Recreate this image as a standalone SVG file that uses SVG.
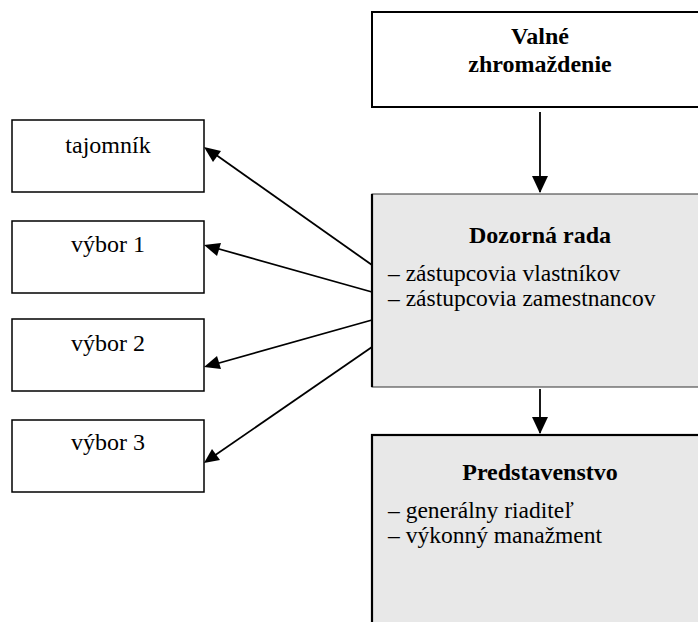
<svg xmlns="http://www.w3.org/2000/svg" width="698" height="622" viewBox="0 0 698 622">
<style>
text{font-family:"Liberation Serif","Times New Roman",serif;font-size:24px;fill:#000}
.b{font-weight:bold}
.c{text-anchor:middle}
.s{font-size:23.5px}
.box{fill:#fff;stroke:#000;stroke-width:1.5}
.gbox{fill:#e8e8e8;stroke:#000;stroke-width:1.5}
.line{stroke:#000;stroke-width:1.8;fill:none}
.head{fill:#000}
</style>
<g id="valne">
<rect class="box" x="372" y="12" width="340" height="95" style="stroke-width:2"/>
<text class="b c" x="540" y="44">Valné</text>
<text class="b c" x="540" y="72">zhromaždenie</text>
</g>
<g id="tajomnik">
<rect class="box" x="12" y="120" width="192" height="72"/>
<text class="c" x="108" y="153">tajomník</text>
</g>
<g id="vybor1">
<rect class="box" x="12" y="221" width="192" height="72"/>
<text class="c" x="108" y="252">výbor 1</text>
</g>
<g id="vybor2">
<rect class="box" x="12" y="319" width="192" height="72"/>
<text class="c" x="108" y="351">výbor 2</text>
</g>
<g id="vybor3">
<rect class="box" x="12" y="420" width="192" height="72"/>
<text class="c" x="108" y="450">výbor 3</text>
</g>
<g id="dozorna">
<rect class="gbox" x="372" y="194" width="340" height="193" style="stroke:#333;stroke-width:1"/>
<line x1="372" y1="194" x2="372" y2="387" stroke="#000" stroke-width="2.2"/>
<text class="b c" x="540" y="243">Dozorná rada</text>
<text class="s" x="388" y="281">– zástupcovia vlastníkov</text>
<text class="s" x="388" y="306">– zástupcovia zamestnancov</text>
</g>
<g id="predstavenstvo">
<rect class="gbox" x="372" y="435" width="340" height="200" style="stroke-width:2.2"/>
<text class="b c" x="540" y="480">Predstavenstvo</text>
<text class="s" x="388" y="518">– generálny riaditeľ</text>
<text class="s" x="388" y="543">– výkonný manažment</text>
</g>
<g id="connectors">
<path d="M540,112 L540,192" fill="none" stroke="#000" stroke-width="1.8"/>
<path class="head" d="M532,176 L548,176 L540,193 z"/>
<path d="M540,389 L540,433" fill="none" stroke="#000" stroke-width="1.8"/>
<path class="head" d="M532,417 L548,417 L540,434 z"/>
<line class="line" x1="372" y1="265" x2="212" y2="152"/>
<path class="head" d="M204,147 L221,151 L213,162 z"/>
<line class="line" x1="372" y1="292" x2="212" y2="247"/>
<path class="head" d="M204,245 L221,243 L217,256 z"/>
<line class="line" x1="372" y1="320" x2="212" y2="365"/>
<path class="head" d="M204,367 L217,356 L221,369 z"/>
<line class="line" x1="372" y1="347" x2="211" y2="458"/>
<path class="head" d="M204,463 L212,449 L220,460 z"/>
</g>
</svg>
